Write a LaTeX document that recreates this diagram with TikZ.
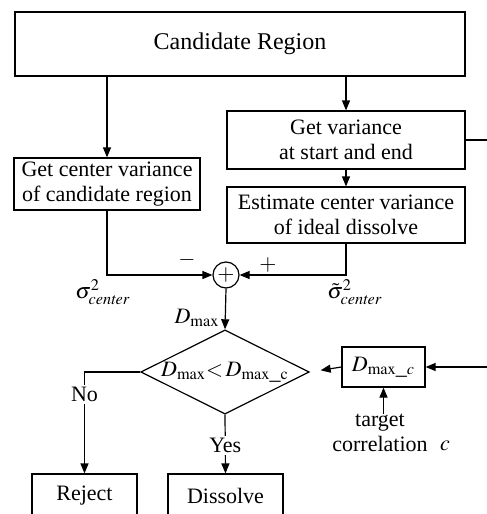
\documentclass[tikz,border=0pt]{standalone}
\usepackage{mathptmx}
\usepackage{fontspec}
\setmainfont{Liberation Serif}
\usetikzlibrary{shapes.geometric,arrows.meta}

\tikzset{
  box/.style={draw, line width=0.6pt, inner sep=1pt, align=center,
    font=\fontsize{11}{12.5}\selectfont},
  arr/.style={line width=0.6pt, -{Triangle[length=5pt,width=4pt]}},
  lbl/.style={fill=white, inner sep=1pt, font=\fontsize{11}{12.5}\selectfont},
  txt/.style={inner sep=0pt, align=center, font=\fontsize{11}{12.5}\selectfont}
}

\begin{document}
\begin{tikzpicture}[x=0.5pt, y=-0.5pt]
				\clip (0,0) rectangle (487,514);
				
				% Boxes
				\node[box, minimum width=225pt, minimum height=32pt, font=\fontsize{12}{14}\selectfont] (cand) at (240,44) {Candidate Region};
				\node[box, minimum width=93pt, minimum height=26pt] (left) at (107,184) {Get center variance\\of candidate region};
				\node[box, minimum width=119pt, minimum height=29pt] (getvar) at (346,140) {Get variance\\at start and end};
				\node[box, minimum width=119pt, minimum height=28pt] (est) at (346,215) {Estimate center variance\\of ideal dissolve};
				
				\node[draw, circle, line width=0.6pt, minimum size=13pt, inner sep=0pt, font=\fontsize{11}{12.5}\selectfont] (sum) at (226,275) {$+$};
				
				\node[draw, diamond, aspect=2, line width=0.6pt, minimum width=83.5pt, minimum height=42pt, inner sep=0pt, font=\fontsize{11}{12.5}\selectfont] (diam) at (225,372) {$D_{\max}{<}\,D_{\mathrm{max\_c}}$};
				\node[box, minimum width=41.5pt, minimum height=20pt] (dmaxc) at (383.5,367) {$D_{\mathrm{max\_ \mathit{c}}}$};
				
				\node[box, minimum width=52.5pt, minimum height=22pt] (reject) at (84.5,496) {Reject};
				\node[box, minimum width=57.5pt, minimum height=22pt] (dissolve) at (225.5,496) {Dissolve};
				
				% Labels
				\node[txt] (minus) at (187,260) {$-$};
				\node[txt] (plus) at (268,265) {$+$};
				\node[txt] (sigc) at (103,292) {$\sigma^2_{\mathit{center}}$};
				\node[txt] (sigt) at (355,292) {$\tilde{\sigma}^2_{\mathit{center}}$};
				\node[txt] (dmaxl) at (197,318) {$D_{\max}$};
				\node[txt] (target) at (380,433) {target\\correlation};
				\node[txt] (cvar) at (445,446) {$c$};
				
				% Edge coordinates
				\coordinate (redge1) at (487,140);
				\coordinate (redge2) at (487,367);
				
				% Connectors
				\draw[arr] (cand.south -| left.north) -- (left.north);
				\draw[arr] (cand.south -| getvar.north) -- (getvar.north);
				\draw[arr] (getvar) -- (est);
				\draw[line width=0.6pt] (getvar.east) -- (redge1);
				\draw[arr] (left.south) |- (sum.west);
				\draw[arr] (est.south) |- (sum.east);
				\draw[arr] (sum.south) -- (diam.north);
				\draw[arr, shorten >=5.5pt] (dmaxc.west) -- (diam.east);
				\draw[arr] (redge2) -- (dmaxc.east);
				\draw[arr] (dmaxc.south |- target.north) -- (dmaxc.south);
				\draw[arr] (diam.west) -| node[lbl, pos=0.61] {No} (reject.north);
				\draw[arr] (diam.south) -- node[lbl, pos=0.52] {Yes} (dissolve.north);
			\end{tikzpicture}
\end{document}
